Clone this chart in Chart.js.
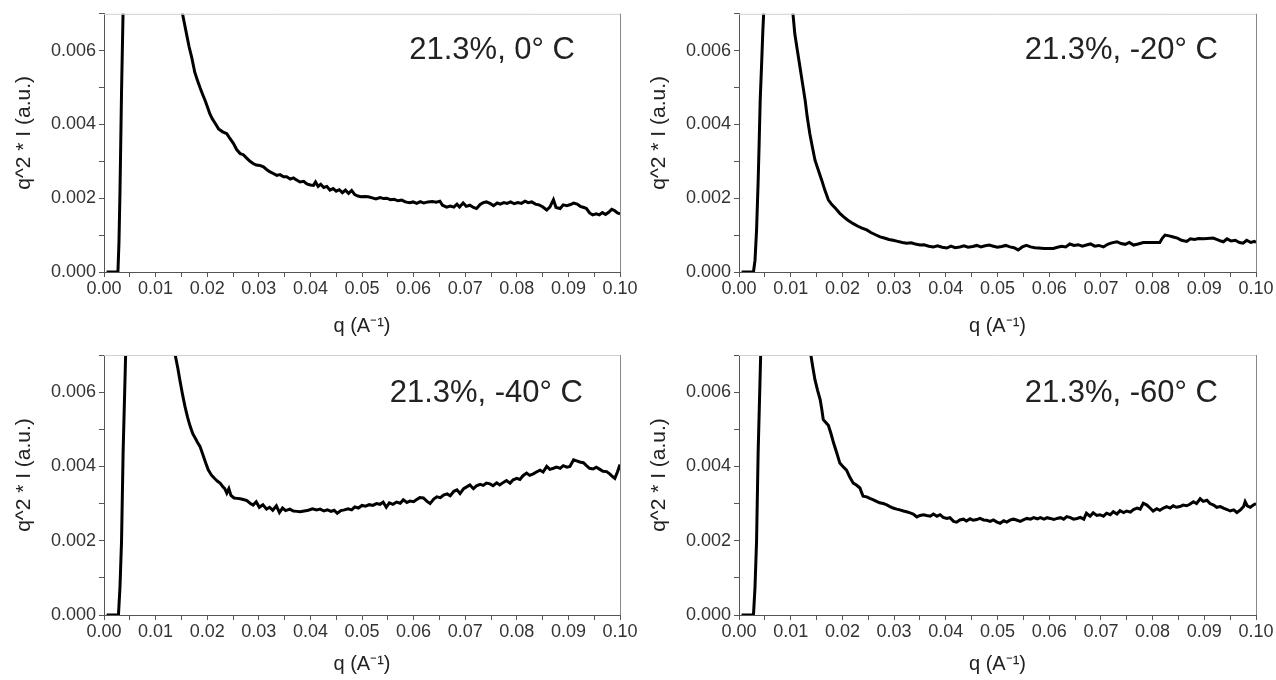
<!DOCTYPE html>
<html>
<head>
<meta charset="utf-8">
<title>SAXS q^2 I panels</title>
<script src="https://cdn.jsdelivr.net/npm/chart.js@4.4.1/dist/chart.umd.min.js"></script>
<style>
  html, body { margin: 0; padding: 0; background: #fff; }
  #wrap { position: relative; width: 1276px; height: 680px; }
  .panel { position: absolute; }
</style>
</head>
<body>
<div id="wrap">
  <canvas id="p0" class="panel" width="640" height="340" style="left:0;top:0"></canvas>
  <canvas id="p1" class="panel" width="636" height="340" style="left:640px;top:0"></canvas>
  <canvas id="p2" class="panel" width="640" height="340" style="left:0;top:340px"></canvas>
  <canvas id="p3" class="panel" width="636" height="340" style="left:640px;top:340px"></canvas>
</div>
<script>
// ---- data: q (A^-1) and q^2*I (a.u.) ----
const PANEL_LABELS = ["21.3%, 0° C", "21.3%, -20° C", "21.3%, -40° C", "21.3%, -60° C"];
const X_TICKS = [0, 0.01, 0.02, 0.03, 0.04, 0.05, 0.06, 0.07, 0.08, 0.09, 0.10];
const Y_TICKS = [0, 0.002, 0.004, 0.006];
const Y_TITLE = "q^2 * I (a.u.)";
const X_TITLE = "q (A\u207B\u00B9)";

// 0 C
const q0 = [0.0005, 0.0027, 0.0029, 0.0031, 0.0034, 0.0038,
  0.0148, 0.0155, 0.0160, 0.0165, 0.0170, 0.0176, 0.0181, 0.0186, 0.0191, 0.0196,
  0.0201, 0.0205, 0.0210, 0.0216, 0.0222, 0.0230, 0.0238, 0.0244, 0.0251, 0.0257,
  0.0264, 0.0270, 0.0277, 0.0283, 0.0289, 0.0295, 0.0302, 0.0309, 0.0315, 0.0321,
  0.0328, 0.0335, 0.0341, 0.0348, 0.0354, 0.0361, 0.0367, 0.0374, 0.0380, 0.0387,
  0.0393, 0.0400, 0.0406, 0.0410, 0.0415, 0.0420, 0.0426, 0.0432, 0.0438, 0.0444,
  0.0450, 0.0456, 0.0462, 0.0468, 0.0474, 0.0480, 0.0486, 0.0492, 0.0498, 0.0505,
  0.0512, 0.0520, 0.0527, 0.0535, 0.0542, 0.0548, 0.0555, 0.0562, 0.0570, 0.0577,
  0.0584, 0.0592, 0.0599, 0.0606, 0.0613, 0.0620, 0.0628, 0.0636, 0.0644, 0.0651,
  0.0656, 0.0664, 0.0671, 0.0678, 0.0684, 0.0689, 0.0696, 0.0702, 0.0709, 0.0716,
  0.0722, 0.0729, 0.0735, 0.0741, 0.0748, 0.0755, 0.0762, 0.0768, 0.0775, 0.0781,
  0.0788, 0.0795, 0.0802, 0.0809, 0.0816, 0.0822, 0.0829, 0.0836, 0.0843, 0.0850,
  0.0858, 0.0864, 0.0871, 0.0876, 0.0884, 0.0890, 0.0897, 0.0904, 0.0910, 0.0917,
  0.0923, 0.0930, 0.0935, 0.0941, 0.0947, 0.0954, 0.0960, 0.0966, 0.0972, 0.0978,
  0.0984, 0.0990, 0.0995, 0.1000];
const i0 = [0, 0, 0.0008, 0.0022, 0.0049, 0.0078,
  0.0073, 0.0068, 0.00645, 0.0061, 0.00582, 0.00541, 0.0052, 0.0050, 0.00482, 0.00465,
  0.00445, 0.00429, 0.00415, 0.00402, 0.00388, 0.00380, 0.00375, 0.00362, 0.00348, 0.00332,
  0.00321, 0.00318, 0.00308, 0.00300, 0.00294, 0.00290, 0.00289, 0.00285, 0.00278, 0.00272,
  0.00267, 0.00262, 0.00264, 0.00258, 0.00258, 0.00252, 0.00255, 0.00249, 0.00244, 0.00246,
  0.00239, 0.00236, 0.00235, 0.00244, 0.00232, 0.00238, 0.00229, 0.00232, 0.00222, 0.00226,
  0.00219, 0.00223, 0.00215, 0.00222, 0.00213, 0.00221, 0.00210, 0.00206, 0.00204, 0.00205,
  0.00204, 0.00201, 0.00198, 0.00202, 0.00199, 0.00200, 0.00196, 0.00197, 0.00193, 0.00195,
  0.00190, 0.00188, 0.00190, 0.00186, 0.00191, 0.00187, 0.00190, 0.00191, 0.00189, 0.00192,
  0.00181, 0.00176, 0.00179, 0.00176, 0.00184, 0.00176, 0.00187, 0.00178, 0.00181, 0.00175,
  0.00172, 0.00183, 0.00188, 0.00190, 0.00186, 0.00180, 0.00187, 0.00184, 0.00188, 0.00186,
  0.00190, 0.00185, 0.00188, 0.00186, 0.00192, 0.00188, 0.00190, 0.00184, 0.00182, 0.00177,
  0.00168, 0.00176, 0.00196, 0.00175, 0.00172, 0.00182, 0.00180, 0.00183, 0.00187, 0.00184,
  0.00178, 0.00175, 0.00172, 0.00160, 0.00155, 0.00158, 0.00155, 0.00161, 0.00156, 0.00162,
  0.00170, 0.00166, 0.00160, 0.00158];

// -20 C
const q1 = [0.0005, 0.0028, 0.0031, 0.0034, 0.0037, 0.0039, 0.0041, 0.0044, 0.0046, 0.0049,
  0.0102, 0.0105, 0.0108, 0.0113, 0.0118, 0.0123, 0.0128, 0.0132, 0.0137, 0.0142,
  0.0147, 0.0153, 0.0160, 0.0166, 0.0173, 0.0180, 0.0187, 0.0195, 0.0202, 0.0210,
  0.0221, 0.0230, 0.0238, 0.0247, 0.0255, 0.0264, 0.0273, 0.0281, 0.0290, 0.0298,
  0.0307, 0.0316, 0.0324, 0.0333, 0.0341, 0.0350, 0.0358, 0.0367, 0.0376, 0.0384,
  0.0393, 0.0402, 0.0410, 0.0418, 0.0427, 0.0435, 0.0443, 0.0452, 0.0460, 0.0468,
  0.0476, 0.0484, 0.0492, 0.0500, 0.0508, 0.0516, 0.0524, 0.0532, 0.0540, 0.0548,
  0.0556, 0.0564, 0.0572, 0.0580, 0.0590, 0.0600, 0.0608, 0.0616, 0.0624, 0.0632,
  0.0640, 0.0648, 0.0656, 0.0664, 0.0672, 0.0680, 0.0688, 0.0696, 0.0705, 0.0713,
  0.0721, 0.0731, 0.0739, 0.0747, 0.0755, 0.0763, 0.0772, 0.0782, 0.0792, 0.0803,
  0.0814, 0.0819, 0.0824, 0.0832, 0.0840, 0.0848, 0.0856, 0.0866, 0.0873, 0.0881,
  0.0889, 0.0898, 0.0906, 0.0917, 0.0925, 0.0932, 0.0937, 0.0944, 0.0952, 0.0960,
  0.0968, 0.0975, 0.0982, 0.0990, 0.0997, 0.1000];
const i1 = [0, 0, 0.00032, 0.00114, 0.00244, 0.0035, 0.00465, 0.00573, 0.0065, 0.0074,
  0.0074, 0.0069, 0.00645, 0.0060, 0.00555, 0.0051, 0.00465, 0.0042, 0.00375, 0.00338,
  0.00303, 0.00278, 0.00249, 0.00222, 0.00195, 0.00182, 0.00172, 0.00159, 0.00150, 0.00141,
  0.00131, 0.00124, 0.00119, 0.00114, 0.00107, 0.00101, 0.00095, 0.00092, 0.00088, 0.00086,
  0.00083, 0.00080, 0.00078, 0.00079, 0.00076, 0.00073, 0.00074, 0.00070, 0.00068, 0.00071,
  0.00067, 0.00065, 0.00070, 0.00066, 0.00068, 0.00071, 0.00067, 0.00069, 0.00072, 0.00068,
  0.00071, 0.00073, 0.00070, 0.00067, 0.00069, 0.00072, 0.00068, 0.00066, 0.00060, 0.00068,
  0.00072, 0.00068, 0.00066, 0.00065, 0.00064, 0.00064, 0.00064, 0.00067, 0.00070, 0.00068,
  0.00076, 0.00072, 0.00074, 0.00070, 0.00073, 0.00076, 0.00070, 0.00072, 0.00068, 0.00075,
  0.00079, 0.00082, 0.00077, 0.00075, 0.00080, 0.00073, 0.00076, 0.00080, 0.00080, 0.00080,
  0.00080, 0.00092, 0.00100, 0.00098, 0.00095, 0.00092, 0.00086, 0.00083, 0.00090, 0.00088,
  0.00091, 0.00090, 0.00091, 0.00092, 0.00088, 0.00084, 0.00082, 0.00090, 0.00084, 0.00086,
  0.00080, 0.00078, 0.00086, 0.00080, 0.00083, 0.00080];

// -40 C
const q2 = [0.0005, 0.0028, 0.0031, 0.0034, 0.0037, 0.0041, 0.0043,
  0.0135, 0.0138, 0.0143, 0.0147, 0.0152, 0.0157, 0.0162, 0.0167, 0.0172, 0.0177,
  0.0181, 0.0186, 0.0191, 0.0197, 0.0202, 0.0208, 0.0214, 0.0220, 0.0225, 0.0230,
  0.0234, 0.0238, 0.0242, 0.0246, 0.0252, 0.0258, 0.0264, 0.0270, 0.0277, 0.0283,
  0.0289, 0.0295, 0.0301, 0.0308, 0.0315, 0.0321, 0.0327, 0.0334, 0.0340, 0.0346,
  0.0352, 0.0360, 0.0367, 0.0374, 0.0380, 0.0388, 0.0396, 0.0404, 0.0412, 0.0419,
  0.0426, 0.0433, 0.0440, 0.0446, 0.0452, 0.0459, 0.0466, 0.0473, 0.0480, 0.0486,
  0.0493, 0.0500, 0.0507, 0.0514, 0.0521, 0.0528, 0.0535, 0.0541, 0.0547, 0.0553,
  0.0560, 0.0567, 0.0574, 0.0580, 0.0587, 0.0593, 0.0600, 0.0606, 0.0612, 0.0619,
  0.0626, 0.0632, 0.0639, 0.0645, 0.0652, 0.0658, 0.0665, 0.0671, 0.0678, 0.0684,
  0.0690, 0.0697, 0.0703, 0.0709, 0.0716, 0.0722, 0.0729, 0.0735, 0.0741, 0.0748,
  0.0754, 0.0761, 0.0767, 0.0774, 0.0780, 0.0787, 0.0793, 0.0800, 0.0806, 0.0812,
  0.0819, 0.0825, 0.0832, 0.0838, 0.0845, 0.0851, 0.0858, 0.0864, 0.0871, 0.0877,
  0.0884, 0.0890, 0.0897, 0.0903, 0.0910, 0.0916, 0.0922, 0.0929, 0.0935, 0.0941,
  0.0948, 0.0954, 0.0961, 0.0967, 0.0974, 0.0980, 0.0986, 0.0990, 0.0995, 0.1000];
const i2 = [0, 0, 0.00076, 0.0020, 0.00436, 0.0065, 0.0076,
  0.0073, 0.0070, 0.00665, 0.00633, 0.00595, 0.00561, 0.00532, 0.00508, 0.00488, 0.00476,
  0.00465, 0.00454, 0.00434, 0.00410, 0.00391, 0.00377, 0.00368, 0.00360, 0.00355, 0.00346,
  0.00340, 0.00328, 0.00340, 0.00322, 0.00315, 0.00314, 0.00313, 0.00311, 0.00308, 0.00301,
  0.00296, 0.00305, 0.00290, 0.00297, 0.00285, 0.00290, 0.00282, 0.00294, 0.00276, 0.00288,
  0.00281, 0.00285, 0.00280, 0.00279, 0.00278, 0.00280, 0.00282, 0.00286, 0.00283, 0.00285,
  0.00280, 0.00283, 0.00279, 0.00282, 0.00274, 0.00281, 0.00283, 0.00286, 0.00283, 0.00291,
  0.00288, 0.00295, 0.00293, 0.00297, 0.00295, 0.00300, 0.00298, 0.00304, 0.00290, 0.00302,
  0.00298, 0.00304, 0.00301, 0.00310, 0.00303, 0.00307, 0.00305, 0.00311, 0.00316, 0.00315,
  0.00306, 0.00300, 0.00312, 0.00318, 0.00316, 0.00323, 0.00326, 0.00321, 0.00333, 0.00337,
  0.00327, 0.00340, 0.00345, 0.00350, 0.00340, 0.00348, 0.00352, 0.00349, 0.00355, 0.00353,
  0.00348, 0.00356, 0.00350, 0.00357, 0.00362, 0.00355, 0.00364, 0.00368, 0.00365, 0.00375,
  0.00382, 0.00376, 0.00380, 0.00385, 0.00390, 0.00385, 0.00400, 0.00392, 0.00395, 0.00398,
  0.00395, 0.00402, 0.00398, 0.00400, 0.00418, 0.00415, 0.00412, 0.00410, 0.00402, 0.00395,
  0.00393, 0.00398, 0.00392, 0.00387, 0.00386, 0.00380, 0.00372, 0.00368, 0.00385, 0.00405];

// -60 C
const q3 = [0.0005, 0.0028, 0.0031, 0.0034, 0.0037, 0.0041, 0.0043,
  0.0136, 0.0139, 0.0143, 0.0147, 0.0152, 0.0157, 0.0160, 0.0163, 0.0168, 0.0173,
  0.0178, 0.0183, 0.0189, 0.0195, 0.0201, 0.0208, 0.0214, 0.0221, 0.0227, 0.0234,
  0.0237, 0.0240, 0.0247, 0.0253, 0.0260, 0.0266, 0.0272, 0.0279, 0.0285, 0.0292,
  0.0298, 0.0305, 0.0311, 0.0318, 0.0324, 0.0331, 0.0337, 0.0344, 0.0350, 0.0357,
  0.0363, 0.0370, 0.0376, 0.0383, 0.0389, 0.0395, 0.0402, 0.0408, 0.0415, 0.0421,
  0.0427, 0.0434, 0.0440, 0.0447, 0.0453, 0.0460, 0.0466, 0.0473, 0.0479, 0.0486,
  0.0492, 0.0499, 0.0505, 0.0512, 0.0518, 0.0525, 0.0531, 0.0538, 0.0544, 0.0551,
  0.0557, 0.0564, 0.0570, 0.0577, 0.0583, 0.0590, 0.0596, 0.0602, 0.0609, 0.0615,
  0.0622, 0.0628, 0.0634, 0.0641, 0.0647, 0.0654, 0.0660, 0.0667, 0.0672, 0.0679,
  0.0685, 0.0692, 0.0698, 0.0705, 0.0711, 0.0718, 0.0724, 0.0731, 0.0737, 0.0744,
  0.0750, 0.0757, 0.0763, 0.0770, 0.0776, 0.0782, 0.0789, 0.0795, 0.0801, 0.0808,
  0.0814, 0.0821, 0.0827, 0.0834, 0.0840, 0.0846, 0.0853, 0.0859, 0.0866, 0.0872,
  0.0879, 0.0885, 0.0892, 0.0898, 0.0905, 0.0911, 0.0918, 0.0924, 0.0931, 0.0937,
  0.0944, 0.0950, 0.0957, 0.0963, 0.0970, 0.0976, 0.0979, 0.0983, 0.0989, 0.0995, 0.1000];
const i3 = [0, 0, 0.00076, 0.0020, 0.00436, 0.0065, 0.0076,
  0.0073, 0.0070, 0.00665, 0.00633, 0.00605, 0.0058, 0.00555, 0.00526, 0.00518, 0.0051,
  0.00488, 0.00463, 0.00437, 0.00409, 0.00400, 0.0039, 0.00372, 0.00355, 0.00350, 0.00342,
  0.00330, 0.0032, 0.00318, 0.00314, 0.0031, 0.00306, 0.00302, 0.0030, 0.00297, 0.00292,
  0.00288, 0.00285, 0.00283, 0.0028, 0.00278, 0.00275, 0.00272, 0.00264, 0.00268, 0.00270,
  0.00268, 0.00266, 0.00272, 0.00266, 0.00270, 0.00263, 0.0026, 0.00262, 0.00252, 0.0025,
  0.00256, 0.00258, 0.00253, 0.00259, 0.00255, 0.00257, 0.0026, 0.00256, 0.00255, 0.00252,
  0.00256, 0.0025, 0.00247, 0.00254, 0.0025, 0.00256, 0.00258, 0.00255, 0.00252, 0.00257,
  0.0026, 0.00258, 0.00262, 0.00259, 0.00262, 0.00258, 0.00262, 0.0026, 0.00257, 0.0026,
  0.00262, 0.00258, 0.00265, 0.00262, 0.00258, 0.0026, 0.00263, 0.00258, 0.00274, 0.00266,
  0.00275, 0.00268, 0.0027, 0.00266, 0.00274, 0.0027, 0.00278, 0.00272, 0.00281, 0.00276,
  0.0028, 0.00277, 0.00284, 0.00288, 0.00285, 0.00301, 0.00296, 0.00288, 0.0028, 0.00286,
  0.00282, 0.00288, 0.00292, 0.00288, 0.00294, 0.0029, 0.00292, 0.00296, 0.00294, 0.00298,
  0.00305, 0.0030, 0.00313, 0.00306, 0.00309, 0.0030, 0.00296, 0.0029, 0.00292, 0.00288,
  0.00284, 0.0028, 0.00283, 0.00276, 0.00283, 0.00292, 0.00305, 0.00294, 0.0029, 0.00296, 0.0030];

const SERIES_Q = [q0, q1, q2, q3];
const SERIES_I = [i0, i1, i2, i3];

// ---- styling ----
const FONT = '"Liberation Sans", Arial, Helvetica, sans-serif';
const AXIS_COLOR = "#555";
const TEXT_COLOR = "#333";

// plot-area geometry of each panel inside its own canvas
const PANEL_BOX = [
  { left: 104, top: 13, right: 20, xh: 68, titlePad: 2, labelRight: 45, labelDown: 45 },
  { left: 99, top: 13, right: 20, xh: 68, titlePad: 2, labelRight: 38, labelDown: 45 },
  { left: 104, top: 15, right: 20, xh: 65, titlePad: 4, labelRight: 37, labelDown: 47 },
  { left: 99, top: 15, right: 20, xh: 65, titlePad: 4, labelRight: 38, labelDown: 47 },
];

// frame (top + right edge), y title (sits a bit above centre in the original)
// and the in-plot condition label
const framePlugin = {
  id: "frameAndLabel",
  afterDraw(chart, args, opts) {
    const { ctx, chartArea: a } = chart;
    ctx.save();
    ctx.lineWidth = 1;
    ctx.strokeStyle = "#d0d0d0";
    ctx.beginPath();
    ctx.moveTo(a.left, a.top + 0.5);
    ctx.lineTo(a.right, a.top + 0.5);
    ctx.stroke();
    ctx.strokeStyle = "#888";
    ctx.beginPath();
    ctx.moveTo(a.right + 0.5, a.top);
    ctx.lineTo(a.right + 0.5, a.bottom);
    ctx.stroke();

    ctx.fillStyle = "#222";
    ctx.font = "31px " + FONT;
    ctx.textAlign = "right";
    ctx.textBaseline = "alphabetic";
    ctx.fillText(opts.text, a.right - opts.dx, a.top + opts.dy);

    ctx.translate(opts.yTitleX, (a.top + a.bottom) / 2 - 10);
    ctx.rotate(-Math.PI / 2);
    ctx.font = "21px " + FONT;
    ctx.textAlign = "center";
    ctx.textBaseline = "middle";
    ctx.fillText(Y_TITLE, 0, 0);
    ctx.restore();
  },
};

function isMajor(v, step) {
  return Math.abs(v / step - Math.round(v / step)) < 1e-6;
}

function makePanel(idx) {
  const box = PANEL_BOX[idx];
  const q = SERIES_Q[idx];
  const inten = SERIES_I[idx];
  const points = q.map((x, k) => ({ x, y: inten[k] }));

  return new Chart(document.getElementById("p" + idx), {
    type: "line",
    data: {
      datasets: [{
        data: points,
        borderColor: "#000",
        borderWidth: 3,
        pointRadius: 0,
        tension: 0,
        fill: false,
      }],
    },
    options: {
      responsive: false,
      animation: false,
      devicePixelRatio: 1,
      layout: { padding: { left: 0, top: box.top, right: box.right, bottom: 0 } },
      plugins: {
        legend: { display: false },
        tooltip: { enabled: false },
        frameAndLabel: {
          text: PANEL_LABELS[idx],
          dx: box.labelRight,
          dy: box.labelDown,
          yTitleX: idx % 2 === 0 ? 24 : 19,
        },
      },
      scales: {
        x: {
          type: "linear",
          min: X_TICKS[0],
          max: X_TICKS[X_TICKS.length - 1],
          afterFit: (s) => { s.height = box.xh; },
          afterBuildTicks: (s) => {
            const t = [];
            for (let k = 0; k < X_TICKS.length; k++) {
              t.push({ value: X_TICKS[k] });
              if (k < X_TICKS.length - 1) t.push({ value: (X_TICKS[k] + X_TICKS[k + 1]) / 2 });
            }
            s.ticks = t;
          },
          ticks: {
            autoSkip: false,
            maxRotation: 0,
            padding: 1,
            color: TEXT_COLOR,
            font: { family: FONT, size: 18 },
            callback: (v) => (isMajor(v, 0.01) ? v.toFixed(2) : ""),
          },
          grid: { drawOnChartArea: false, drawTicks: true, tickLength: 5, tickColor: AXIS_COLOR },
          border: { color: AXIS_COLOR, width: 1 },
          title: {
            display: true,
            text: X_TITLE,
            color: "#222",
            font: { family: FONT, size: 20 },
            padding: { top: 0, bottom: box.titlePad },
          },
        },
        y: {
          min: 0,
          max: 0.007,
          afterFit: (s) => { s.width = box.left; },
          afterBuildTicks: (s) => {
            s.ticks = [0, 0.001, 0.002, 0.003, 0.004, 0.005, 0.006, 0.007].map((value) => ({ value }));
          },
          ticks: {
            padding: 3,
            color: TEXT_COLOR,
            font: { family: FONT, size: 18 },
            callback: (v) => (Y_TICKS.some((t) => Math.abs(t - v) < 1e-9) ? v.toFixed(3) : ""),
          },
          grid: { drawOnChartArea: false, drawTicks: true, tickLength: 5, tickColor: AXIS_COLOR },
          border: { color: AXIS_COLOR, width: 1 },
          title: { display: false },
        },
      },
    },
    plugins: [framePlugin],
  });
}

[0, 1, 2, 3].forEach(makePanel);
</script>
</body>
</html>
